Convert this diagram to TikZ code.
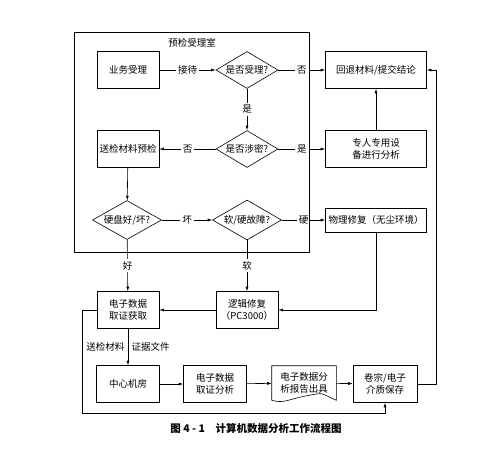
\documentclass[tikz,border=0pt]{standalone}
\usepackage{fontspec}
\setmainfont{Noto Sans CJK SC}
\usetikzlibrary{
  arrows.meta,
  shapes.geometric
}

\tikzset{
  every node/.style={font=\fontsize{9.5}{12}\selectfont},
  box/.style={draw, minimum width=62pt, minimum height=37pt, align=center, inner sep=1pt},
  widebox/.style={box, minimum width=101pt},
  decision/.style={draw, diamond, aspect=1.7, inner sep=0pt, minimum width=62pt, minimum height=37pt},
  flow/.style={-{Latex[length=4.5pt,width=3pt]}},
  lbl/.style={fill=white, inner sep=2pt},
}

\begin{document}
\begin{tikzpicture}[x=1pt, y=-1pt, line width=0.6pt]
\useasboundingbox (0,0) rectangle (499,453);
% reception room
\node (room) at (192,43) {预检受理室};
\node[box] (yewu) at (128,70) {业务受理};
\node[decision] (shouli) at (247,70) {是否受理?};
\node[widebox] (huitui) at (376,70) {回退材料/提交结论};
\node[decision] (shemi) at (247,149) {是否涉密?};
\node[box] (yujian) at (128,149) {送检材料预检};
\node[widebox] (zhuanren) at (376,149) {专人专用设\\备进行分析};
\node[decision, minimum width=69pt, minimum height=39pt] (yingpan) at (127,220) {硬盘好/坏?};
\node[decision, minimum width=69pt, minimum height=40pt] (guzhang) at (247,220) {软/硬故障?};
\node[widebox, minimum height=24pt] (wuli) at (376,220) {物理修复（无尘环境）};
% recovery
\node[box] (huoqu) at (128,310) {电子数据\\取证获取};
\node[box] (luoji) at (247,310) {逻辑修复\\（PC3000）};
% centre
\node[box, minimum width=63pt] (jifang) at (128,384) {中心机房};
\node[box, minimum width=63pt] (fenxi) at (215,384) {电子数据\\取证分析};
\node[minimum width=64pt, minimum height=34pt, align=center] (baogao) at (304,383) {电子数据分\\析报告出具};
\node[box, minimum width=64pt] (juanzong) at (385,384) {卷宗/电子\\介质保存};
\draw (baogao.south west) -- (baogao.north west) -- (baogao.north east) -- (baogao.south east)
  .. controls +(-18,-8) and +(22,-4) .. ([yshift=4pt]baogao.south) .. controls +(-18,4) and +(12,3) .. (baogao.south west);

\draw[flow] (yewu) -- node[lbl]{接待} (shouli);
\draw[flow] (shouli) -- node[lbl]{否} (huitui);
\draw[flow] (shouli) -- node[lbl]{是} (shemi);
\draw[flow] (shemi) -- node[lbl]{否} (yujian);
\draw[flow] (shemi) -- node[lbl]{是} (zhuanren);
\draw[flow] (zhuanren) -- (huitui);
\draw[flow] (yujian) -- (yingpan);
\draw[flow] (yingpan) -- node[lbl]{坏} (guzhang);
\draw[flow] (guzhang) -- node[lbl]{硬} (wuli);
\draw[flow] (yingpan) -- node[lbl]{好} (huoqu);
\draw[flow] (guzhang) -- node[lbl]{软} (luoji);
\draw[flow] (wuli) |- (luoji);
\draw[flow] (luoji) -- (huoqu);
\draw[flow] (huoqu) -- node[left]{送检材料} node[right]{证据文件} (jifang);
\draw[flow] (jifang) -- (fenxi);
\draw[flow] (fenxi) -- (baogao);
\draw[flow] (baogao) -- (juanzong);
\draw[flow] (juanzong.east) -- ++(19,0) |- (huitui.east);
\coordinate (loop) at (82,413);
\draw[flow] (huoqu.west) -| (loop) -| (juanzong.south);

\draw (74,32) rectangle (309,252);
\node[font=\fontsize{10.5}{12}\selectfont\bfseries] (caption) at (256,428) {图 4 - 1\quad 计算机数据分析工作流程图};
\end{tikzpicture}
\end{document}
